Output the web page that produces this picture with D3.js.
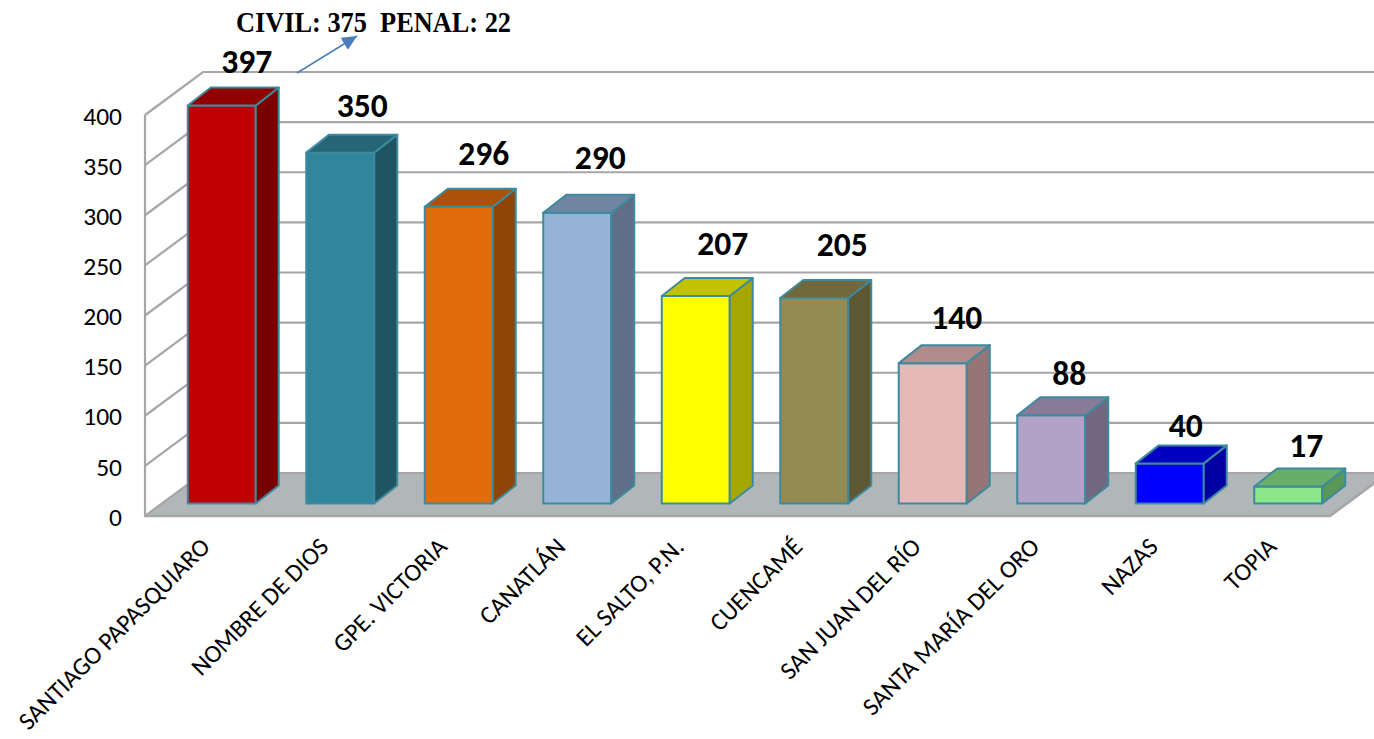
<!DOCTYPE html>
<html><head><meta charset="utf-8">
<script src="https://cdn.jsdelivr.net/npm/d3@7"></script>
<style>html,body{margin:0;padding:0;background:#fff}svg{display:block}</style>
</head><body><svg id="c" width="1374" height="739"></svg>
<script>
const categories = ["SANTIAGO PAPASQUIARO","NOMBRE DE DIOS","GPE. VICTORIA","CANATLÁN","EL SALTO, P.N.","CUENCAMÉ","SAN JUAN DEL RÍO","SANTA MARÍA DEL ORO","NAZAS","TOPIA"];
const values = [397,350,296,290,207,205,140,88,40,17];
const tickValues = [0,50,100,150,200,250,300,350,400];
const frontColors = ["#c00000","#31859c","#e36c0a","#95b3d7","#ffff00","#948a54","#e6b9b8","#b3a2c7","#0000ff","#8ae78a"];
const sideColors = ["#7a0000","#1f5463","#8f4507","#5e7088","#a6a600","#5e5835","#937675","#72677f","#0000a3","#58965a"];
const topColors = ["#900000","#256575","#aa5208","#7085a2","#c2c200","#70683f","#af8c8b","#887b97","#0000c0","#68ae6a"];
const labelNudgeX = [25,22,25,23,27,28,24,18,16,18];
const labelNudgeY = [45,48,54,56,53,54,46,42,38,42];
const annotation = "CIVIL: 375  PENAL: 22";

const svg = d3.select("#c");
const x = d3.scaleBand().domain(categories).range([145,1330]);
const y = d3.scaleLinear().domain([0,400]).range([516,115]);
const WALL = {dx:58, dy:-43};
const BAR = {w:68, dx:23, dy:-18, shiftX:17.5, shiftY:-12.5};
const grid = "#a6a6a6", edge = "#3d8a9e";

// floor
svg.append("polygon").attr("fill","#b1b6b9")
  .attr("points",[[x.range()[0],y(0)],[x.range()[1],y(0)],[x.range()[1]+WALL.dx,y(0)+WALL.dy],[x.range()[0]+WALL.dx,y(0)+WALL.dy]].join(" "));

// gridlines on back and side walls
const g = svg.append("g").attr("fill","none").attr("stroke",grid).attr("stroke-width",2.2);
tickValues.forEach(t=>{
  g.append("path").attr("d",`M${x.range()[0]},${y(t)}L${x.range()[0]+WALL.dx},${y(t)+WALL.dy}L1374,${y(t)+WALL.dy}`);
});
g.append("path").attr("d",`M${x.range()[0]},${y(0)}V${y(400)}`);
g.append("path").attr("d",`M${x.range()[0]-1},${y(0)}H${x.range()[1]}L${x.range()[1]+WALL.dx},${y(0)+WALL.dy}`).attr("stroke-width",2.6);

// bars
const bars = svg.append("g").attr("stroke",edge).attr("stroke-width",2).attr("stroke-linejoin","round");
categories.forEach((c,i)=>{
  const l = x(c)+x.bandwidth()/2+BAR.shiftX-BAR.w/2, r = l+BAR.w;
  const t = y(values[i])+BAR.shiftY, b = y(0)+BAR.shiftY;
  bars.append("rect").attr("x",l).attr("y",t).attr("width",BAR.w).attr("height",b-t).attr("fill",frontColors[i]);
  bars.append("polygon").attr("fill",sideColors[i]).attr("points",[[r,t],[r+BAR.dx,t+BAR.dy],[r+BAR.dx,b+BAR.dy],[r,b]].join(" "));
  bars.append("polygon").attr("fill",topColors[i]).attr("points",[[l,t],[l+BAR.dx,t+BAR.dy],[r+BAR.dx,t+BAR.dy],[r,t]].join(" "));
  svg.append("text").attr("x",l+BAR.w/2+labelNudgeX[i]).attr("y",y(values[i])+BAR.shiftY-labelNudgeY[i])
    .attr("dy","0.36em").attr("text-anchor","middle")
    .attr("font-family","Carlito, Lato, sans-serif").attr("font-weight",700).attr("font-size",33.5).attr("fill","#000")
    .text(values[i]);
});

// y axis
const yAxis = d3.axisLeft(y).tickValues(tickValues).tickSize(0).tickPadding(23);
const ya = svg.append("g").attr("transform",`translate(145,1)`).call(yAxis);
ya.select(".domain").remove();
ya.selectAll("text").attr("font-family","Carlito, Lato, sans-serif").attr("font-size",25.5).attr("fill","#000");

// category labels
const xAxis = d3.axisBottom(x).tickSize(0).tickPadding(0);
const xa = svg.append("g").attr("transform",`translate(0,${y(0)})`).call(xAxis);
xa.select(".domain").remove();
xa.selectAll("text").attr("font-family","Carlito, Lato, sans-serif").attr("font-size",25).attr("fill","#000")
  .attr("text-anchor","end").attr("dy",null).attr("y",0)
  .attr("transform","translate(3,28) rotate(-45)").attr("dominant-baseline","middle");

// annotation
svg.append("text").attr("x",236).attr("y",32).attr("font-family","'Liberation Serif', serif")
  .attr("font-weight",700).attr("font-size",28.5).attr("textLength",275).attr("lengthAdjust","spacingAndGlyphs")
  .attr("xml:space","preserve").style("white-space","pre").attr("fill","#000").text(annotation);
svg.append("defs").append("marker").attr("id","ah").attr("markerUnits","userSpaceOnUse").attr("markerWidth",16).attr("markerHeight",16)
  .attr("refX",15).attr("refY",7).attr("orient","auto")
  .append("path").attr("d","M0,0L15,7L0,14Z").attr("fill","#4a7ebb");
svg.append("line").attr("x1",297).attr("y1",73).attr("x2",357).attr("y2",36)
  .attr("stroke","#4a7ebb").attr("stroke-width",1.5).attr("marker-end","url(#ah)");
</script></body></html>
